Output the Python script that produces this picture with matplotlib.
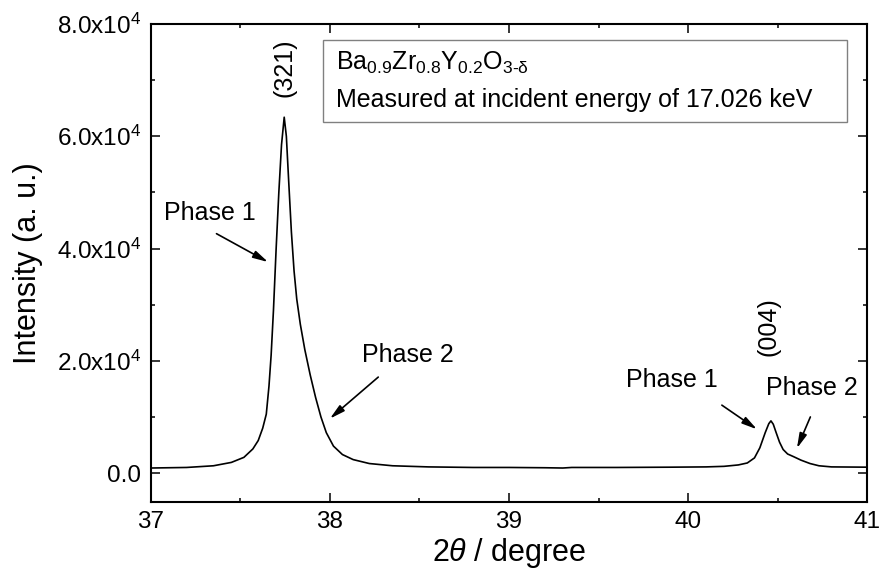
import matplotlib
matplotlib.use("Agg")
import matplotlib.pyplot as plt
from matplotlib.ticker import MultipleLocator, FuncFormatter

plt.rcParams['font.family'] = ['Liberation Sans', 'DejaVu Sans']
plt.rcParams['mathtext.fontset'] = 'custom'
plt.rcParams['mathtext.rm'] = 'Liberation Sans'
plt.rcParams['mathtext.it'] = 'Liberation Sans:italic'
plt.rcParams['mathtext.bf'] = 'Liberation Sans:bold'

# XRD scan, values
two_theta = [37.00, 37.20, 37.35, 37.45, 37.52, 37.57, 37.60, 37.625, 37.645,
             37.66, 37.672, 37.685, 37.70, 37.715, 37.73, 37.745, 37.757,
             37.77, 37.785, 37.80, 37.815, 37.835, 37.86, 37.89, 37.92,
             37.95, 37.98, 38.02, 38.07, 38.13, 38.22, 38.35, 38.55, 38.80,
             39.00, 39.20, 39.30, 39.35, 39.60, 39.90, 40.10, 40.20, 40.28,
             40.33, 40.37, 40.40, 40.43, 40.45, 40.462, 40.475, 40.49, 40.51,
             40.53, 40.555, 40.59, 40.63, 40.68, 40.73, 40.80, 41.00]
intensity = [900, 1000, 1300, 1900, 2800, 4300, 5800, 8000, 10500,
             15500, 21000, 29000, 40000, 50000, 58500, 63400, 60000,
             52000, 43000, 36000, 31000, 26500, 22000, 17500, 13500,
             10000, 7200, 4800, 3300, 2400, 1700, 1300, 1100, 1000,
             1000, 950, 900, 1000, 1000, 1050, 1100, 1200, 1450,
             1800, 2700, 4500, 7200, 8800, 9300, 8700, 7300, 5500,
             4200, 3400, 2900, 2300, 1700, 1300, 1100, 1050]

# peak labels: (text, x, y)
peak_labels = [('(321)', 37.749, 72200), ('(004)', 40.447, 26100)]

# phase annotations
phase_labels = ['Phase 1', 'Phase 2', 'Phase 1', 'Phase 2']
phase_text_xy = [(37.33, 46300), (38.436, 21000), (39.91, 16600), (40.691, 15100)]
arrow_tail = [(37.367, 42650), (38.27, 17100), (40.188, 12100), (40.682, 10000)]
arrow_head = [(37.655, 37600), (38.0, 9700), (40.384, 7800), (40.607, 4400)]

formula = r'Ba$_{0.9}$Zr$_{0.8}$Y$_{0.2}$O$_{\text{3-δ}}$'
note = 'Measured at incident energy of 17.026 keV'


def sci_fmt(v, pos):
    if v == 0:
        return '0.0'
    exp = 4
    return r'$\mathrm{%.1fx10^{%d}}$' % (v / 10 ** exp, exp)


fig = plt.figure(figsize=(8.8, 5.72), dpi=100)
ax = fig.add_axes([0.1713, 0.1229, 0.8143, 0.8351])

ax.plot(two_theta, intensity, color='black', linewidth=1.2)

ax.set_xlim(37, 41)
ax.set_ylim(-5100, 80000)
ax.xaxis.set_major_locator(MultipleLocator(1))
ax.xaxis.set_minor_locator(MultipleLocator(0.5))
ax.yaxis.set_major_locator(MultipleLocator(20000))
ax.yaxis.set_minor_locator(MultipleLocator(10000))
ax.yaxis.set_major_formatter(FuncFormatter(sci_fmt))

ax.tick_params(which='both', direction='in', top=True, right=True,
               labelsize=17.5, width=1.1, pad=7)
ax.tick_params(which='major', length=6.5)
ax.tick_params(which='minor', length=3)
for sp in ax.spines.values():
    sp.set_linewidth(1.5)

ax.set_xlabel(r'2$\theta$ / degree', fontsize=22, labelpad=2)
ax.set_ylabel('Intensity (a. u.)', fontsize=22, labelpad=10)

for txt, x, y in peak_labels:
    ax.text(x, y, txt, rotation=90, ha='center', va='center', fontsize=18)

for txt, (tx, ty), tail, head in zip(phase_labels, phase_text_xy, arrow_tail, arrow_head):
    ax.text(tx, ty, txt, ha='center', va='center', fontsize=18)
    ax.annotate('', xy=head, xytext=tail,
                arrowprops=dict(arrowstyle='-|>,head_length=0.6,head_width=0.15',
                                color='black', lw=1.2, mutation_scale=15,
                                shrinkA=0, shrinkB=0))

# info box in the upper right
box_x0, box_y0 = (323 - 150.7) / 716.6, (501.7 - 121.7) / 477.7
box_w, box_h = (846.7 - 323) / 716.6, (121.7 - 40) / 477.7
ax.add_patch(plt.Rectangle((box_x0, box_y0), box_w, box_h, transform=ax.transAxes,
                           fill=False, edgecolor='#808080', linewidth=1))
ax.text(box_x0 + 0.018, box_y0 + box_h * 0.72, formula, transform=ax.transAxes,
        ha='left', va='center', fontsize=18)
ax.text(box_x0 + 0.018, box_y0 + box_h * 0.27, note, transform=ax.transAxes,
        ha='left', va='center', fontsize=18)

fig.savefig('out.png', dpi=100)
